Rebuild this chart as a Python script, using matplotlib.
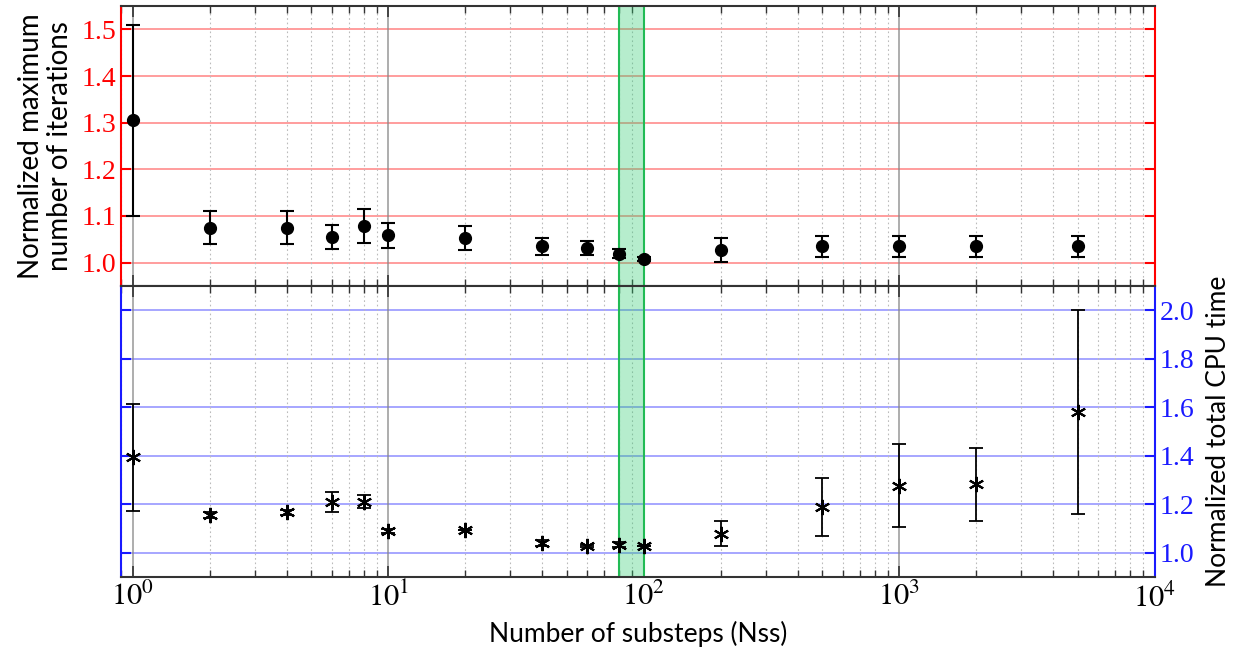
import matplotlib
matplotlib.use("Agg")
import matplotlib.pyplot as plt
import numpy as np

nss = [1, 2, 4, 6, 8, 10, 20, 40, 60, 80, 100, 200, 500, 1000, 2000, 5000]
iter_mean = [1.305, 1.075, 1.075, 1.055, 1.079, 1.059, 1.053, 1.035, 1.031, 1.019, 1.008, 1.027, 1.035, 1.035, 1.035, 1.035]
iter_err = [0.205, 0.036, 0.036, 0.025, 0.036, 0.027, 0.025, 0.018, 0.015, 0.010, 0.004, 0.025, 0.022, 0.022, 0.022, 0.022]
cpu_mean = [1.393, 1.156, 1.167, 1.209, 1.210, 1.090, 1.093, 1.040, 1.029, 1.033, 1.026, 1.079, 1.190, 1.277, 1.282, 1.581]
cpu_err = [0.22, 0.012, 0.010, 0.043, 0.027, 0.010, 0.0, 0.012, 0.005, 0.010, 0.0, 0.05, 0.12, 0.17, 0.15, 0.42]
band = [80, 100]
top_ticks = [1.0, 1.1, 1.2, 1.3, 1.4, 1.5]
bot_ticks = [1.0, 1.2, 1.4, 1.6, 1.8, 2.0]

plt.rcParams['mathtext.fontset'] = 'stix'
serif = 'Liberation Serif'
sans = 'Lato'

fig = plt.figure(figsize=(12.41, 6.51), dpi=100)
L, R = 121 / 1241, 1155 / 1241
ax1 = fig.add_axes([L, 1 - 286 / 651, R - L, (286 - 6) / 651])
ax2 = fig.add_axes([L, 1 - 577 / 651, R - L, (577 - 286) / 651])

red = '#ff0000'
blue = '#1a1aff'

for ax, col, ticks in [(ax1, red, top_ticks), (ax2, blue, bot_ticks)]:
    ax.set_xscale('log')
    ax.set_xlim(0.9, 10000)
    ax.set_yticks(ticks)
    for t in ticks:
        ax.axhline(t, color=col, lw=1.2, alpha=0.45, zorder=1)
    ax.grid(True, which='major', axis='x', color='#888888', lw=1.2, alpha=0.8, zorder=1)
    ax.grid(True, which='minor', axis='x', color='#bbbbbb', lw=0.8, ls=(0, (1.5, 2.5)), zorder=1)
    ax.axvspan(band[0], band[1], facecolor='#2ecc71', alpha=0.35, edgecolor='none', zorder=2)
    ax.axvline(band[0], color='#22bb55', lw=1.5, zorder=2)
    ax.axvline(band[1], color='#22bb55', lw=1.5, zorder=2)
    ax.spines['left'].set_color(col)
    ax.spines['right'].set_color(col)
    ax.spines['left'].set_linewidth(1.5)
    ax.spines['right'].set_linewidth(1.5)
    ax.spines['top'].set_color('#333333')
    ax.spines['bottom'].set_color('#333333')
    ax.spines['top'].set_linewidth(1.5)
    ax.spines['bottom'].set_linewidth(1.5)
    ax.tick_params(axis='x', which='both', direction='in', top=True, bottom=True, color='#333333')
    ax.tick_params(axis='x', which='major', length=8, width=1.2)
    ax.tick_params(axis='x', which='minor', length=5, width=1.0)
    ax.tick_params(axis='y', which='both', direction='in', left=True, right=True, color=col,
                   length=7, width=1.5, labelcolor=col, labelsize=20)

ax1.set_ylim(0.95, 1.55)
ax1.set_yticklabels([f'{t:.1f}' for t in top_ticks], fontfamily=serif)
ax1.tick_params(axis='x', labelbottom=False)
ax1.errorbar(nss, iter_mean, yerr=iter_err, fmt='o', color='black', ms=8.5, capsize=5,
             elinewidth=1.5, capthick=1.5, zorder=5)
ax1.set_ylabel('Normalized maximum\nnumber of iterations', fontsize=20, fontfamily=sans,
               linespacing=1.15, labelpad=6)

ax2.set_ylim(0.9, 2.1)
ax2.yaxis.tick_right()
ax2.tick_params(axis='y', left=True, right=True, labelleft=False, labelright=True)
ax2.set_yticklabels([f'{t:.1f}' for t in bot_ticks], fontfamily=serif)
ax2.yaxis.set_label_position('right')
ax2.set_ylabel('Normalized total CPU time', fontsize=19, fontfamily=sans, labelpad=8)
ax2.errorbar(nss, cpu_mean, yerr=cpu_err, fmt='none', ecolor='black', capsize=5,
             elinewidth=1.3, capthick=1.3, zorder=5)
ax2.plot(nss, cpu_mean, ls='none', marker=(6, 2, 0), ms=11, mew=1.5, color='black', zorder=6)
ax2.set_xticks([1, 10, 100, 1000, 10000])
ax2.set_xticklabels([r'$10^{%d}$' % i for i in range(5)], fontsize=22)
ax2.set_xlabel('Number of substeps (Nss)', fontsize=19, fontfamily=sans, labelpad=6)

fig.savefig('out.png', dpi=100)
